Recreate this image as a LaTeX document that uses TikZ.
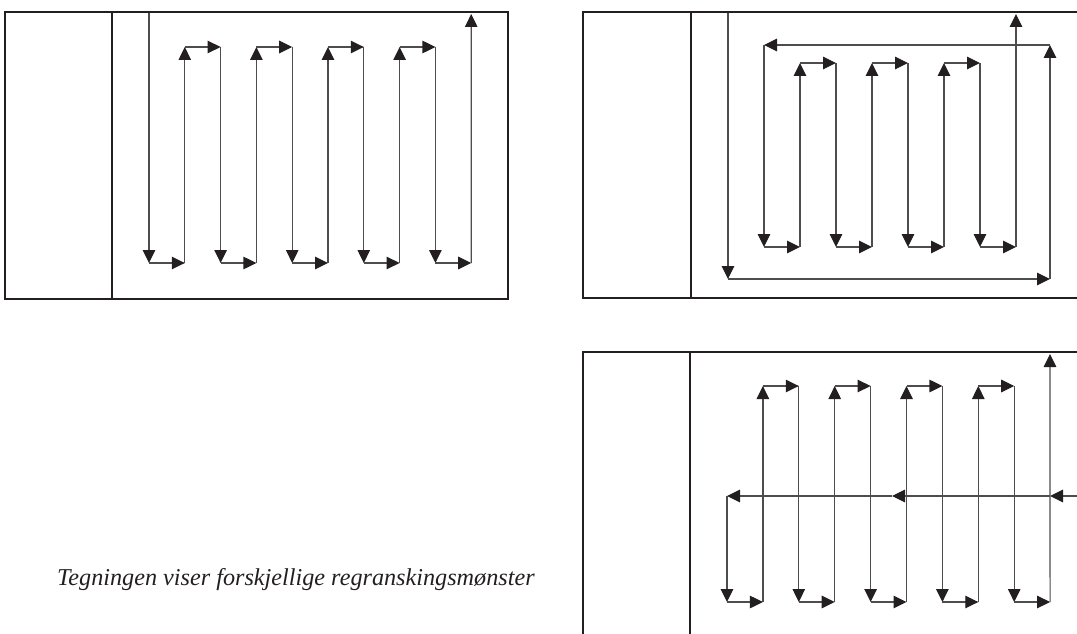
\documentclass[tikz,border=0pt]{standalone}
\usepackage{fontspec}
\setmainfont{Liberation Serif}
\usetikzlibrary{arrows.meta}
\definecolor{ink}{HTML}{231F20}
\definecolor{lgrey}{HTML}{4D4D4D}
\begin{document}
\begin{tikzpicture}[x=1pt,y=-1pt,
  frame/.style={draw=ink,line width=2.6pt},
  run/.style={draw=lgrey,line width=1.2pt,-{Triangle[length=13pt,width=12.5pt,color=ink]}},
  caption/.style={anchor=base west,text=ink,inner sep=0pt,font=\itshape\fontsize{24.2}{28}\selectfont}
]
\useasboundingbox (0,0) rectangle (1077,634);

% ---------- Panel 1 ----------
\draw[frame] (5,12) rectangle (508,299);
\coordinate (d1a) at (112,12);
\coordinate (d1b) at (112,299);
\draw[frame] (d1a) -- (d1b);
\foreach \j in {0,...,9} {
  \coordinate (p1t\j) at ({149+35.8*\j},47);
  \coordinate (p1b\j) at ({149+35.8*\j},263);
}
\coordinate (p1s) at (149,13);
\coordinate (p1e) at (471.2,14);
\draw[run] (p1s) -- (p1b0);
\foreach \k in {0,...,3} {
  \pgfmathtruncatemacro\a{2*\k}
  \pgfmathtruncatemacro\b{2*\k+1}
  \pgfmathtruncatemacro\c{2*\k+2}
  \draw[run] (p1b\a) -- (p1b\b);
  \draw[run] (p1b\b) -- (p1t\b);
  \draw[run] (p1t\b) -- (p1t\c);
  \draw[run] (p1t\c) -- (p1b\c);
}
\draw[run] (p1b8) -- (p1b9);
\draw[run] (p1b9) -- (p1e);

% ---------- Panel 2 ----------
\draw[frame] (1077,12) -- (583,12) -- (583,298) -- (1077,298);
\coordinate (d2a) at (691,12);
\coordinate (d2b) at (691,298);
\draw[frame] (d2a) -- (d2b);
\foreach \j in {0,...,7} {
  \coordinate (p2t\j) at ({764+36*\j},63);
  \coordinate (p2b\j) at ({764+36*\j},247);
}
\coordinate (p2s) at (728,13);
\coordinate (p2o1) at (728,279);
\coordinate (p2o2) at (1050,279);
\coordinate (p2o3) at (1050,45);
\coordinate (p2o4) at (764,45);
\coordinate (p2e) at (1016,14);
\draw[run] (p2s) -- (p2o1);
\draw[run] (p2o1) -- (p2o2);
\draw[run] (p2o2) -- (p2o3);
\draw[run] (p2o3) -- (p2o4);
\draw[run] (p2o4) -- (p2b0);
\foreach \k in {0,...,2} {
  \pgfmathtruncatemacro\a{2*\k}
  \pgfmathtruncatemacro\b{2*\k+1}
  \pgfmathtruncatemacro\c{2*\k+2}
  \draw[run] (p2b\a) -- (p2b\b);
  \draw[run] (p2b\b) -- (p2t\b);
  \draw[run] (p2t\b) -- (p2t\c);
  \draw[run] (p2t\c) -- (p2b\c);
}
\draw[run] (p2b6) -- (p2b7);
\draw[run] (p2b7) -- (p2e);

% ---------- Panel 3 ----------
\draw[frame] (1077,352) -- (583,352) -- (583,634);
\coordinate (d3a) at (690,352);
\coordinate (d3b) at (690,634);
\draw[frame] (d3a) -- (d3b);
\foreach \j in {0,...,9} {
  \coordinate (p3t\j) at ({727+35.9*\j},386);
  \coordinate (p3b\j) at ({727+35.9*\j},602);
}
\coordinate (p3h0) at (1077,496);
\coordinate (p3h1) at (1050,496);
\coordinate (p3h2) at (892,496);
\coordinate (p3h3) at (727,496);
\coordinate (p3e) at (1050,354);
\draw[run] (p3h0) -- (p3h1);
\draw[run] (p3h1) -- (p3h2);
\draw[run] (p3h2) -- (p3h3);
\draw[run] (p3h3) -- (p3b0);
\foreach \k in {0,...,3} {
  \pgfmathtruncatemacro\a{2*\k}
  \pgfmathtruncatemacro\b{2*\k+1}
  \pgfmathtruncatemacro\c{2*\k+2}
  \draw[run] (p3b\a) -- (p3b\b);
  \draw[run] (p3b\b) -- (p3t\b);
  \draw[run] (p3t\b) -- (p3t\c);
  \draw[run] (p3t\c) -- (p3b\c);
}
\draw[run] (p3b8) -- (p3b9);
\draw[run] (p3b9) -- (p3e);

% ---------- Caption ----------
\node[caption] (cap) at (57,585) {Tegningen viser forskjellige regranskingsmønster};
\end{tikzpicture}
\end{document}
